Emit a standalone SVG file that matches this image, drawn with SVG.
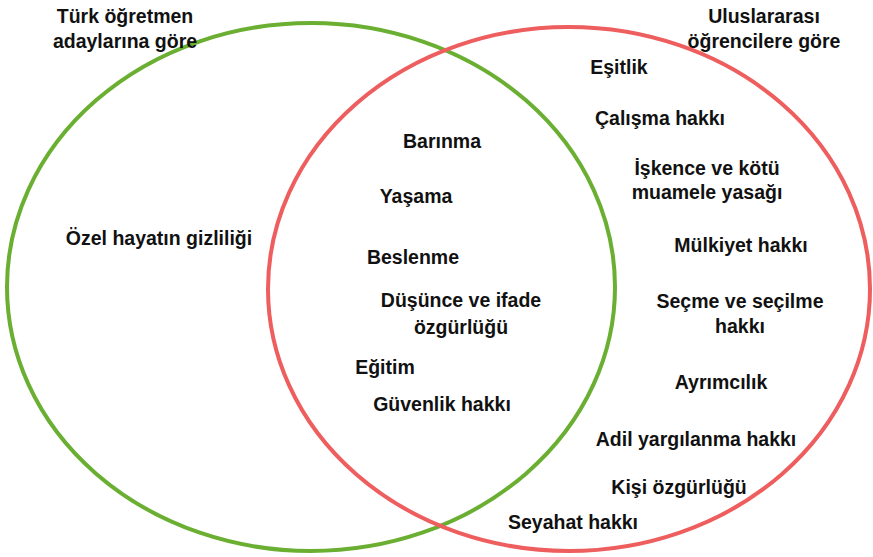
<svg xmlns="http://www.w3.org/2000/svg" width="873" height="557" viewBox="0 0 873 557">
<style>
text{font-family:"Liberation Sans",Arial,sans-serif;font-weight:bold;font-size:19.5px;fill:#111;text-anchor:middle}
.c{fill:none;stroke-width:4}
</style>
<rect width="873" height="557" fill="#fff"/>
<g id="set-turk"><ellipse class="c" cx="311" cy="287" rx="304" ry="264" stroke="#6aaf32"/></g>
<g id="set-intl"><ellipse class="c" cx="569" cy="289" rx="301" ry="262" stroke="#ee5e5e"/></g>
<g id="title-turk"><text x="125" y="23">Türk öğretmen</text><text x="125" y="48">adaylarına göre</text></g>
<g id="title-intl"><text x="764" y="23">Uluslararası</text><text x="764" y="48">öğrencilere göre</text></g>
<g id="n-ozel"><text x="159" y="245">Özel hayatın gizliliği</text></g>
<g id="n-barinma"><text x="442" y="148">Barınma</text></g>
<g id="n-yasama"><text x="416" y="203">Yaşama</text></g>
<g id="n-beslenme"><text x="413" y="264">Beslenme</text></g>
<g id="n-dusunce"><text x="461" y="307">Düşünce ve ifade</text><text x="461" y="334">özgürlüğü</text></g>
<g id="n-egitim"><text x="385" y="374">Eğitim</text></g>
<g id="n-guvenlik"><text x="442" y="411">Güvenlik hakkı</text></g>
<g id="n-esitlik"><text x="619" y="74">Eşitlik</text></g>
<g id="n-calisma"><text x="660" y="125">Çalışma hakkı</text></g>
<g id="n-iskence"><text x="707" y="175">İşkence ve kötü</text><text x="707" y="199">muamele yasağı</text></g>
<g id="n-mulkiyet"><text x="741" y="252">Mülkiyet hakkı</text></g>
<g id="n-secme"><text x="740" y="308">Seçme ve seçilme</text><text x="740" y="333">hakkı</text></g>
<g id="n-ayrimcilik"><text x="721" y="389">Ayrımcılık</text></g>
<g id="n-adil"><text x="696" y="446">Adil yargılanma hakkı</text></g>
<g id="n-kisi"><text x="679" y="494">Kişi özgürlüğü</text></g>
<g id="n-seyahat"><text x="573" y="529">Seyahat hakkı</text></g>
<g id="connectors"></g>
</svg>
